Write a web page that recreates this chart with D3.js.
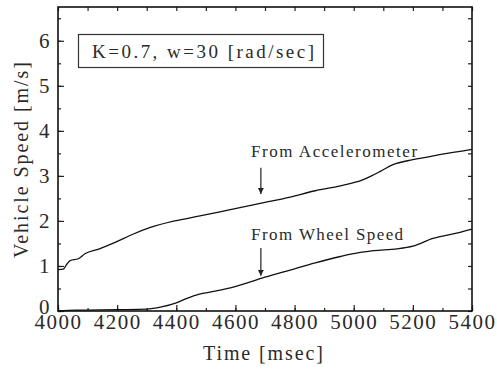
<!DOCTYPE html>
<meta charset="utf-8">
<style>
body { margin: 0; background: #fff; }
</style>
<svg width="497" height="369"></svg>
<script src="https://d3js.org/d3.v7.min.js"></script>
<script>

// accelerometer-derived speed
var accelTime  = [4000, 4018, 4030, 4041, 4069, 4091, 4140, 4195, 4255, 4310, 4395, 4480, 4595, 4700, 4785, 4870, 4955, 5030, 5060, 5090, 5133, 5200, 5290, 5400];
var accelSpeed = [0.92, 0.93, 1.04, 1.12, 1.16, 1.27, 1.38, 1.53, 1.71, 1.85, 2.00, 2.11, 2.27, 2.41, 2.53, 2.67, 2.78, 2.91, 3.00, 3.10, 3.25, 3.36, 3.47, 3.59];

// wheel speed
var wheelTime  = [4000, 4060, 4200, 4300, 4350, 4400, 4436, 4475, 4531, 4599, 4700, 4785, 4870, 4955, 5022, 5068, 5147, 5200, 5268, 5336, 5400];
var wheelSpeed = [0.00, 0.02, 0.03, 0.04, 0.09, 0.18, 0.28, 0.37, 0.44, 0.54, 0.75, 0.91, 1.07, 1.21, 1.30, 1.34, 1.38, 1.44, 1.61, 1.71, 1.82];

var xTicks = [4000, 4200, 4400, 4600, 4800, 5000, 5200, 5400];
var yTicks = [0, 1, 2, 3, 4, 5, 6];

var labels = ["From Accelerometer", "From Wheel Speed"];
var labelTime = [4653, 4653];
var labelSpeed = [3.42, 1.58];
var arrowTime = [4686, 4686];
var arrowFrom = [3.18, 1.40];
var arrowTo = [2.60, 0.78];

var font = "Liberation Serif";

var svg = d3.select("svg"),
    margin = {top: 7, right: 25, bottom: 58, left: 58},
    width = +svg.attr("width") - margin.left - margin.right,
    height = +svg.attr("height") - margin.top - margin.bottom,
    g = svg.append("g").attr("transform", "translate(" + margin.left + "," + margin.top + ")");

var x = d3.scaleLinear().domain([4000, 5400]).range([0, width]);
var y = d3.scaleLinear().domain([0, 6.75]).range([height, 0]);

var minorX = d3.range(4000, 5401, 100),
    minorY = d3.range(0, 6.6, 0.5);

// minor ticks
g.append("g").attr("transform", "translate(0," + height + ")")
    .call(d3.axisBottom(x).tickValues(minorX).tickSize(-3).tickFormat(""));
g.append("g").call(d3.axisLeft(y).tickValues(minorY).tickSize(-3).tickFormat(""));
g.append("g").call(d3.axisTop(x).tickValues(minorX).tickSize(-4).tickFormat(""));
g.append("g").attr("transform", "translate(" + width + ",0)")
    .call(d3.axisRight(y).tickValues(minorY).tickSize(-4).tickFormat(""));

// major ticks with labels
g.append("g").attr("transform", "translate(0," + height + ")")
    .call(d3.axisBottom(x).tickValues(xTicks).tickSize(-6).tickPadding(3).tickFormat(d3.format("d")));
var yAxis = g.append("g")
    .call(d3.axisLeft(y).tickValues(yTicks).tickSize(-6).tickPadding(7).tickFormat(d3.format("d")));

g.selectAll(".domain").remove();
g.selectAll(".tick line").attr("stroke", "#222").attr("stroke-width", 1.2);
g.selectAll("g").attr("font-family", font).attr("font-size", 21);
g.selectAll(".tick text").attr("fill", "#2a2a2a").style("letter-spacing", "1.5px");
// lift the zero label a little so it clears the 4000 label
yAxis.selectAll(".tick text").filter(function(d) { return d === 0; }).attr("y", -4);

g.append("rect")
    .attr("width", width).attr("height", height)
    .attr("fill", "none").attr("stroke", "#111").attr("stroke-width", 1.6);

var line = d3.line()
    .x(function(d) { return x(d[0]); })
    .y(function(d) { return y(d[1]); })
    .curve(d3.curveMonotoneX);

g.append("path")
    .datum(d3.zip(accelTime, accelSpeed))
    .attr("fill", "none").attr("stroke", "#111").attr("stroke-width", 1.3)
    .attr("d", line);

g.append("path")
    .datum(d3.zip(wheelTime, wheelSpeed))
    .attr("fill", "none").attr("stroke", "#111").attr("stroke-width", 1.3)
    .attr("d", line);

// annotations
svg.append("defs").append("marker")
    .attr("id", "head")
    .attr("viewBox", "0 0 6 10")
    .attr("refX", 6).attr("refY", 5)
    .attr("markerWidth", 6).attr("markerHeight", 10)
    .attr("markerUnits", "userSpaceOnUse")
    .attr("orient", "auto")
  .append("path").attr("d", "M0,2L6,5L0,8Z").attr("fill", "#222");

labels.forEach(function(s, i) {
  g.append("text")
      .attr("x", x(labelTime[i])).attr("y", y(labelSpeed[i]))
      .attr("font-family", font).attr("font-size", 17).attr("fill", "#2a2a2a")
      .attr("textLength", i === 0 ? 166 : 152)
      .attr("lengthAdjust", "spacing")
      .text(s);
  g.append("line")
      .attr("x1", x(arrowTime[i])).attr("x2", x(arrowTime[i]))
      .attr("y1", y(arrowFrom[i])).attr("y2", y(arrowTo[i]))
      .attr("stroke", "#222").attr("stroke-width", 1.2)
      .attr("marker-end", "url(#head)");
});

// parameter box
svg.append("rect")
    .attr("x", 78.5).attr("y", 34.5).attr("width", 245).attr("height", 33)
    .attr("fill", "#fff").attr("stroke", "#333").attr("stroke-width", 1.2);
svg.append("text")
    .attr("x", 92).attr("y", 58)
    .attr("font-family", font).attr("font-size", 19).attr("fill", "#2a2a2a")
    .attr("textLength", 222)
    .attr("lengthAdjust", "spacing")
    .text("K=0.7, w=30 [rad/sec]");

// axis titles
svg.append("text")
    .attr("x", 203).attr("y", 360)
    .attr("font-family", font).attr("font-size", 20).attr("fill", "#2a2a2a")
    .attr("textLength", 120)
    .attr("lengthAdjust", "spacing")
    .text("Time [msec]");

svg.append("text")
    .attr("transform", "translate(28,258) rotate(-90)")
    .attr("font-family", font).attr("font-size", 20).attr("fill", "#2a2a2a")
    .attr("textLength", 196)
    .attr("lengthAdjust", "spacing")
    .text("Vehicle Speed [m/s]");

</script>
